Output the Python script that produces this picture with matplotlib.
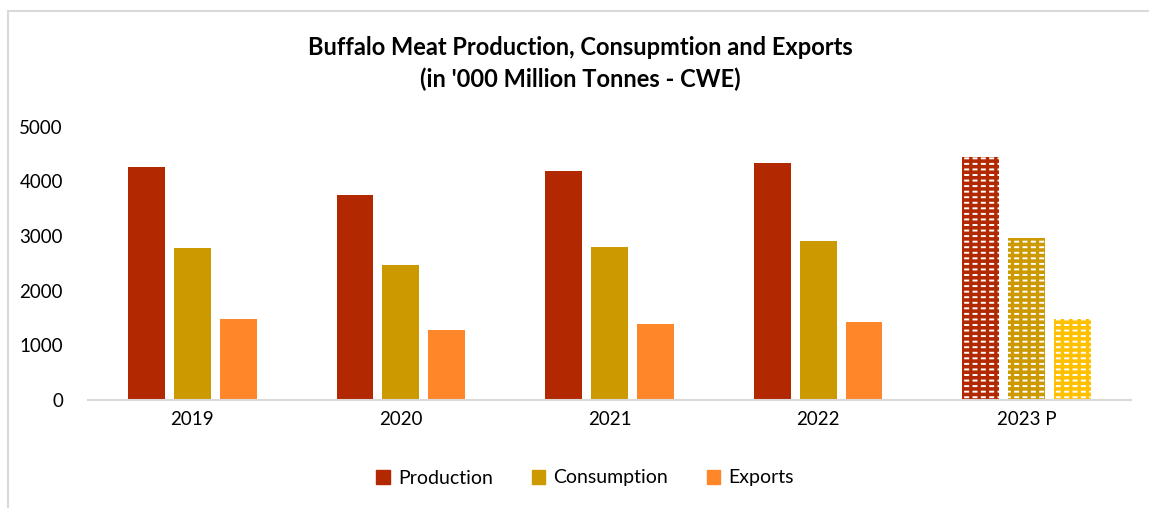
import matplotlib
matplotlib.use("Agg")
import matplotlib.pyplot as plt
import numpy as np
from matplotlib.patches import Rectangle, Patch

years = ["2019", "2020", "2021", "2022", "2023 P"]
production = [4265, 3755, 4190, 4345, 4450]
consumption = [2775, 2470, 2795, 2905, 2955]
exports = [1490, 1275, 1390, 1435, 1480]

c_prod = "#B22800"
c_cons = "#CC9900"
c_exp = "#FF8629"
c_exp_proj = "#FFC000"

plt.rcParams["font.family"] = ["Lato", "DejaVu Sans"]

fig = plt.figure(figsize=(11.49, 5.08), dpi=100)
ax = fig.add_axes([88/1149, 1-400/508, (1131-88)/1149, (400-126.7)/508])

x = np.arange(len(years))
w = 0.177
step = 0.22
series = [(production, c_prod), (consumption, c_cons), (exports, c_exp)]
for k, (vals, col) in enumerate(series):
    pos = x + (k - 1) * step
    for i, v in enumerate(vals):
        if i == len(vals) - 1:
            fc = c_exp_proj if k == 2 else col
            with plt.rc_context({"hatch.linewidth": 1.4}):
                b1 = ax.bar(pos[i], v, w, color=fc, edgecolor="white", hatch="---", linewidth=0)
            with plt.rc_context({"hatch.linewidth": 2.4}):
                b2 = ax.bar(pos[i], v, w, color="none", edgecolor=fc, hatch="||", linewidth=0)
            for p in b1:
                if hasattr(p, "set_hatch_linewidth"):
                    p.set_hatch_linewidth(1.4)
            for p in b2:
                if hasattr(p, "set_hatch_linewidth"):
                    p.set_hatch_linewidth(2.4)
        else:
            ax.bar(pos[i], v, w, color=col, linewidth=0)

ax.set_xlim(-0.5, len(years) - 0.5)
ax.set_ylim(0, 5000)
ax.set_yticks([0, 1000, 2000, 3000, 4000, 5000])
ax.set_xticks(x)
ax.set_xticklabels(years)
for s in ["top", "right", "left"]:
    ax.spines[s].set_visible(False)
ax.spines["bottom"].set_color("#D9D9D9")
ax.spines["bottom"].set_linewidth(1.5)
ax.tick_params(axis="both", length=0, labelsize=13.5, colors="#000000")
ax.tick_params(axis="y", pad=18)
ax.tick_params(axis="x", pad=8)

fig.text(0.505, 1-47/508, "Buffalo Meat Production, Consupmtion and Exports",
         ha="center", va="center", fontsize=17, fontweight="bold")
fig.text(0.505, 1-79/508, "(in '000 Million Tonnes - CWE)",
         ha="center", va="center", fontsize=17, fontweight="bold")

handles = [Patch(color=c_prod, label="Production"),
           Patch(color=c_cons, label="Consumption"),
           Patch(color=c_exp, label="Exports")]
fig.legend(handles=handles, loc="center", bbox_to_anchor=(585/1149, 1-478/508),
           ncol=3, frameon=False, fontsize=14, handlelength=0.7, handleheight=0.7,
           handletextpad=0.4, columnspacing=2.0)

fig.patches.append(Rectangle((7.5/1149, -0.01), 1.2, 1 - 11/508 + 0.01,
                             transform=fig.transFigure, fill=False,
                             edgecolor="#D9D9D9", linewidth=1.5))

fig.savefig("out.png", dpi=100, facecolor="white")
